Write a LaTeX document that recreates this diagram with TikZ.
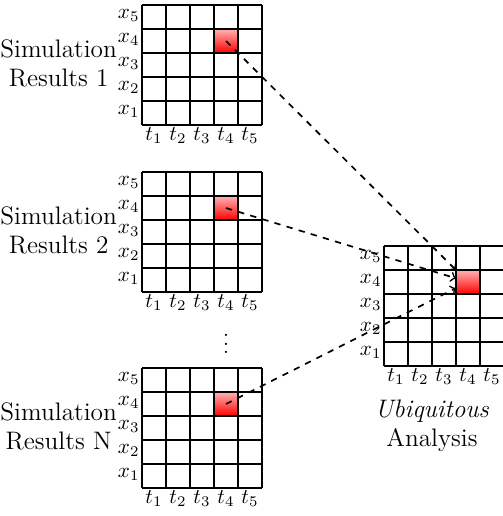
\documentclass[tikz,border=0pt]{standalone}
\usepackage{amsmath}
\usepackage{tikz}
\usetikzlibrary{positioning, calc}
\tikzstyle{cell} = [rectangle, minimum size=0.4cm, inner sep=0pt, outer sep=0pt, top color=red!30, bottom color=red]
\tikzstyle{lab} = [inner sep=1pt]
\tikzstyle{simtext} = [align=center, inner sep=0pt, font=\large]
\tikzstyle{arrow} = [thick, dashed, ->]

% grid with one marked cell: x, y, name
\newcommand{\resgrid}[3]{%
  \begin{scope}[shift={(#1,#2)}]
    \node[cell] (#3) at (1.4,1.4) {};
    \draw[semithick] (0,0) grid[step=0.4] (2,2);
    \foreach \i in {1,...,5} {
      \node[lab, anchor=east] (#3x\i) at (0,0.4*\i-0.17) {$x_{\i}$};
      \node[lab, anchor=north] (#3t\i) at (0.4*\i-0.2,0) {$t_{\i}$};
    }
  \end{scope}}

\begin{document}
\begin{tikzpicture}
    \useasboundingbox (0,0) rectangle (8.383,-8.6);

    % Simulaciones
    \resgrid{2.367}{-2.083}{sim1}
    \resgrid{2.367}{-4.867}{sim2}
    \resgrid{2.367}{-8.133}{simn}
    \node (sim1txt) [simtext, left=-0.03cm of sim1x3] {Simulation\\Results 1};
    \node (sim2txt) [simtext, left=-0.03cm of sim2x3] {Simulation\\Results 2};
    \node (simntxt) [simtext, left=-0.03cm of simnx3] {Simulation\\Results N};
    \node (dots) [below=0.14cm of sim2t4, inner sep=0pt] {$\vdots$};

    % Analisis
    \resgrid{6.4}{-6.1}{ubiq}
    \node (ubiqtxt) [simtext, below=0.2cm of ubiqt3, xshift=-0.2cm] {\textit{Ubiquitous}\\Analysis};

    % Flechas
    \draw [arrow] (sim1.center) -- (ubiq);
    \draw [arrow] (sim2.center) -- (ubiq);
    \draw [arrow] (simn.center) -- (ubiq);
\end{tikzpicture}
\end{document}
